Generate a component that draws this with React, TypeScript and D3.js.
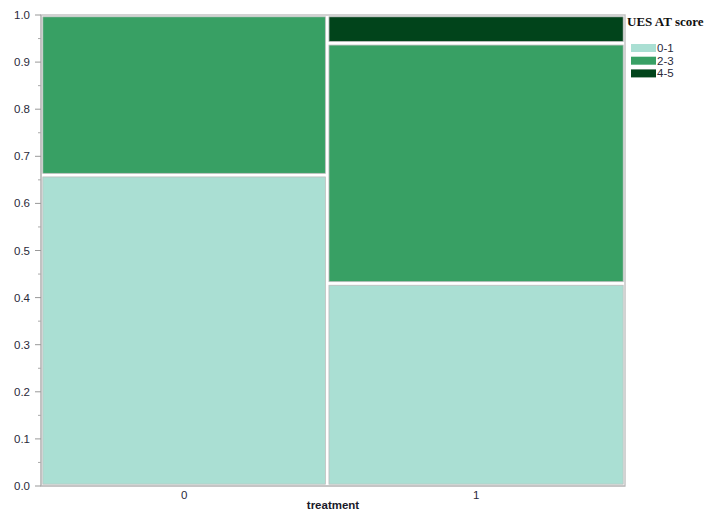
import React from "react";
import * as d3 from "d3";

// Mosaic plot: column widths are the share of each treatment group,
// stacked cells are the share of each UES AT score band within the group.
const treatments = ["0", "1"];
const treatmentShare = [0.49, 0.51];
const scoreBands = ["0-1", "2-3", "4-5"];
const bandShareT0 = [0.66, 0.34, 0.0];
const bandShareT1 = [0.43, 0.51, 0.06];
const bandColors = ["#aadfd3", "#38a064", "#01441b"];
const yTicks = [0, 0.1, 0.2, 0.3, 0.4, 0.5, 0.6, 0.7, 0.8, 0.9, 1.0];

const W = 708;
const H = 514;
const left = 41;
const right = 625;
const top = 15;
const bottom = 486;

export default function App() {
  const y = d3.scaleLinear().domain([0, 1]).range([bottom, top]);
  const x = d3.scaleLinear().domain([0, 1]).range([left, right]);

  const shares = [bandShareT0, bandShareT1];
  const colStarts = d3.cumsum([0, ...treatmentShare]);

  const cells: { x0: number; x1: number; y0: number; y1: number; c: string; key: string }[] = [];
  treatments.forEach((t, i) => {
    const cum = d3.cumsum([0, ...shares[i]]);
    shares[i].forEach((s, j) => {
      if (s <= 0) return;
      cells.push({
        x0: x(colStarts[i]),
        x1: x(colStarts[i + 1]),
        y0: y(cum[j + 1]),
        y1: y(cum[j]),
        c: bandColors[j],
        key: `${t}-${j}`,
      });
    });
  });

  const minorTicks = d3.range(0.05, 1, 0.1);
  const font = "'Liberation Sans', Arial, sans-serif";
  const inset = 1.8;

  return (
    <svg width={W} height={H} style={{ position: "absolute", left: 0, top: 0, background: "#fff" }}>
      {/* plot frame */}
      <rect x={left} y={top} width={right - left} height={bottom - top} fill="#fff" stroke="#c4c4c4" strokeWidth={1.5} />
      {cells.map((d) => (
        <rect
          key={d.key}
          x={d.x0 + inset}
          y={d.y0 + inset}
          width={d.x1 - d.x0 - 2 * inset}
          height={d.y1 - d.y0 - 2 * inset}
          fill={d.c}
          stroke="#bdbdbd"
          strokeWidth={0.8}
        />
      ))}
      {/* y axis */}
      <line x1={left} x2={left} y1={top} y2={bottom} stroke="#b8b8b8" strokeWidth={1.2} />
      {yTicks.map((t) => (
        <g key={t}>
          <line x1={left - 6} x2={left} y1={y(t)} y2={y(t)} stroke="#999" />
          <text x={left - 11} y={y(t)} dy="0.35em" textAnchor="end" fontFamily={font} fontSize={11.5} fill="#2a2a3a">
            {t.toFixed(1)}
          </text>
        </g>
      ))}
      {minorTicks.map((t) => (
        <line key={t} x1={left - 3} x2={left} y1={y(t)} y2={y(t)} stroke="#aaa" />
      ))}
      {/* x axis */}
      <line x1={left} x2={right} y1={bottom} y2={bottom} stroke="#b8b8b8" strokeWidth={1.2} />
      {treatments.map((t, i) => (
        <text
          key={t}
          x={x((colStarts[i] + colStarts[i + 1]) / 2)}
          y={bottom + 13}
          textAnchor="middle"
          fontFamily={font}
          fontSize={11.5}
          fill="#2a2a3a"
        >
          {t}
        </text>
      ))}
      <text x={(left + right) / 2} y={bottom + 23} textAnchor="middle" fontFamily={font} fontSize={11.5} fontWeight={600} fill="#1a1a2a">
        treatment
      </text>
      {/* legend */}
      <text x={627} y={26} fontFamily="'Liberation Serif', 'Times New Roman', serif" fontSize={13} fontWeight="bold" fill="#111">
        UES AT score
      </text>
      {scoreBands.map((b, i) => (
        <g key={b} transform={`translate(631, ${44 + i * 12.7})`}>
          <rect x={0} y={0} width={25} height={8} fill={bandColors[i]} />
          <text x={26} y={4} dy="0.35em" fontFamily={font} fontSize={11.5} fill="#2a2a3a">
            {b}
          </text>
        </g>
      ))}
    </svg>
  );
}
